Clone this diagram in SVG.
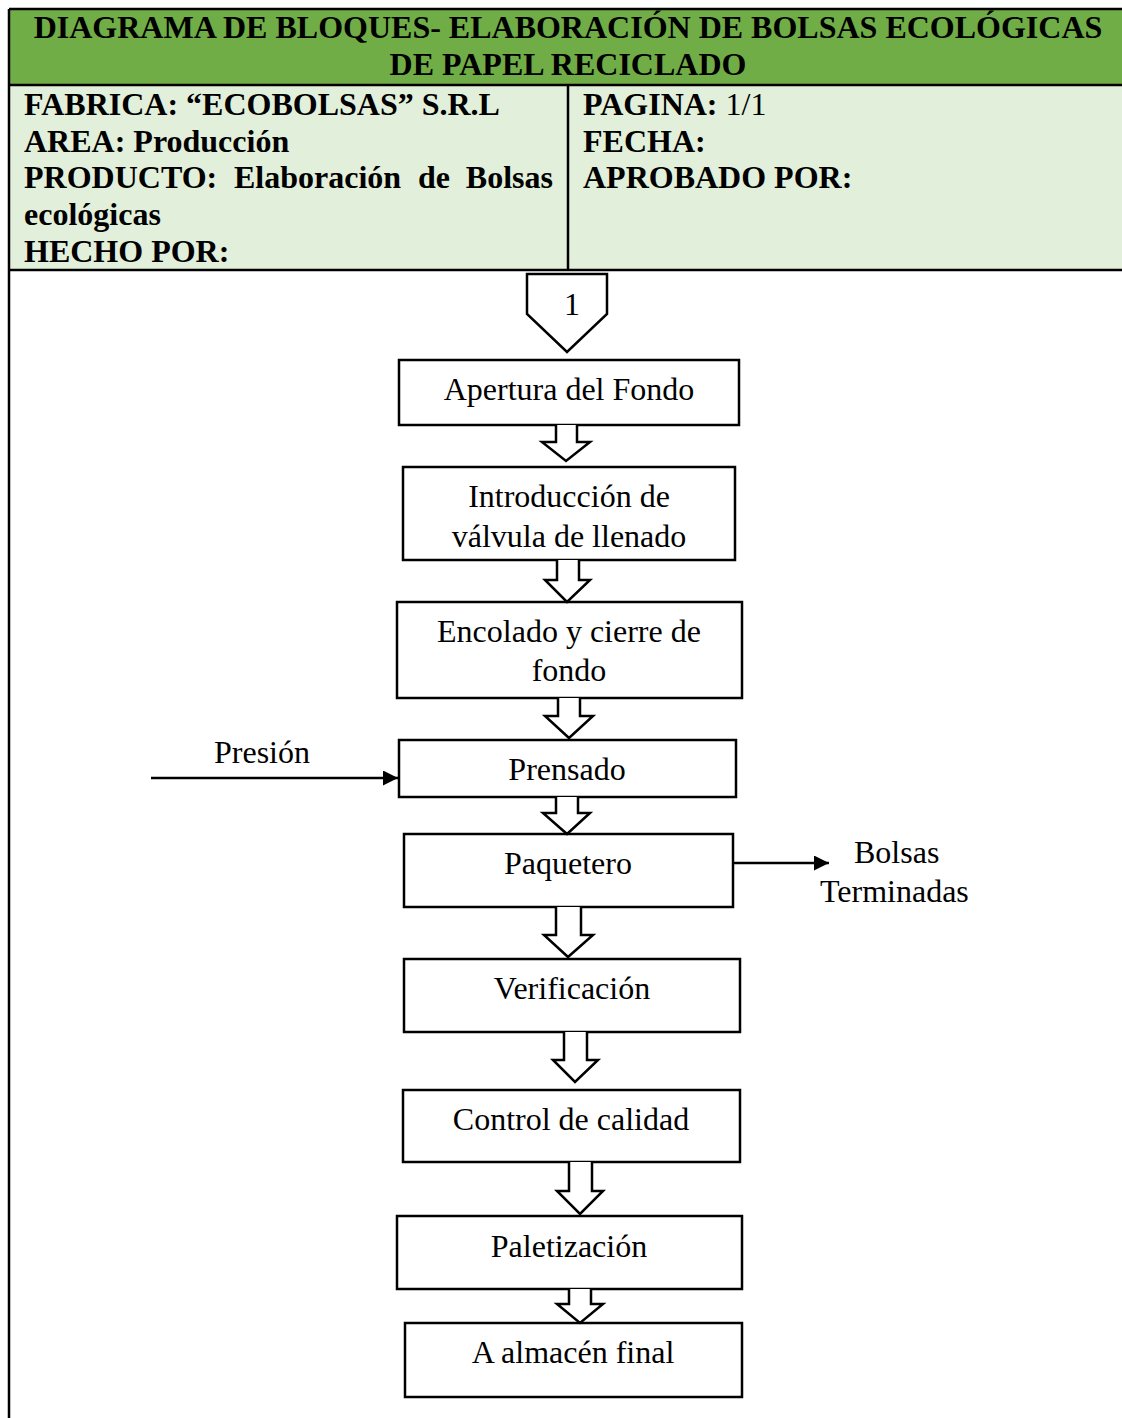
<svg xmlns="http://www.w3.org/2000/svg" width="1122" height="1418" viewBox="0 0 1122 1418">
<defs>
<style>
text{font-family:"Liberation Serif","Times New Roman",serif;fill:#000}
.t{font-size:32px;font-weight:bold}
.h{font-size:32px;font-weight:bold}
.b{font-size:32px;text-anchor:middle}
.l{font-size:32px}
.box{fill:#fff;stroke:#000;stroke-width:2.5}
.ba{fill:#fff;stroke:#000;stroke-width:2.5;stroke-linejoin:miter}
.ln{stroke:#000;stroke-width:2.5;fill:none}
</style>
<marker id="ah2" viewBox="0 0 14 14" refX="14" refY="7" markerWidth="15" markerHeight="15" markerUnits="userSpaceOnUse" orient="auto">
<path d="M0,0 L14,7 L0,14 z" fill="#000"/>
</marker>
</defs>
<rect width="1122" height="1418" fill="#fff"/>
<g id="header">
<rect x="9" y="9" width="1115" height="76" fill="#70AD47"/>
<rect x="9" y="85" width="1115" height="185" fill="#E2EFDA"/>
<path class="ln" d="M9,9 H1124 M9,85 H1124 M9,270 H1124 M9,9 V1420 M568,85 V270"/>
<text class="t" x="568" y="38" text-anchor="middle">DIAGRAMA DE BLOQUES- ELABORACIÓN DE BOLSAS ECOLÓGICAS</text>
<text class="t" x="568" y="75" text-anchor="middle">DE PAPEL RECICLADO</text>
<text class="h" x="24" y="115">FABRICA: “ECOBOLSAS” S.R.L</text>
<text class="h" x="24" y="152">AREA: Producción</text>
<text class="h" y="188"><tspan x="24">PRODUCTO:</tspan><tspan x="234">Elaboración</tspan><tspan x="418">de</tspan></text>
<text class="h" x="553" y="188" text-anchor="end">Bolsas</text>
<text class="h" x="24" y="225">ecológicas</text>
<text class="h" x="24" y="262">HECHO POR:</text>
<text class="h" x="583" y="115">PAGINA: <tspan font-weight="normal">1/1</tspan></text>
<text class="h" x="583" y="152">FECHA:</text>
<text class="h" x="583" y="188">APROBADO POR:</text>
</g>
<g id="connector1">
<path class="box" d="M527,274 H607 V314 L567,352 L527,314 Z"/>
<text class="b" x="572" y="315">1</text>
</g>
<g id="n1"><rect class="box" x="399" y="360" width="340" height="65"/><text class="b" x="569" y="400">Apertura del Fondo</text></g>
<g id="n2"><rect class="box" x="403" y="467" width="332" height="93"/><text class="b" x="569" y="507">Introducción de</text><text class="b" x="569" y="547">válvula de llenado</text></g>
<g id="n3"><rect class="box" x="397" y="602" width="345" height="96"/><text class="b" x="569" y="642">Encolado y cierre de</text><text class="b" x="569" y="681">fondo</text></g>
<g id="n4"><rect class="box" x="399" y="740" width="337" height="57"/><text class="b" x="567" y="780">Prensado</text></g>
<g id="n5"><rect class="box" x="404" y="834" width="329" height="73"/><text class="b" x="568" y="874">Paquetero</text></g>
<g id="n6"><rect class="box" x="404" y="959" width="336" height="73"/><text class="b" x="572" y="999">Verificación</text></g>
<g id="n7"><rect class="box" x="403" y="1090" width="337" height="72"/><text class="b" x="571" y="1130">Control de calidad</text></g>
<g id="n8"><rect class="box" x="397" y="1216" width="345" height="73"/><text class="b" x="569" y="1257">Paletización</text></g>
<g id="n9"><rect class="box" x="405" y="1323" width="337" height="74"/><text class="b" x="573" y="1363">A almacén final</text></g>
<g id="connectors">
<path class="ba" d="M556,425 V442 H542 L566,461 L590,442 H577 V425"/>
<path class="ba" d="M557,560 V580 H545 L567,602 L590,580 H579 V560"/>
<path class="ba" d="M558,698 V716 H545 L569,738 L593,716 H580 V698"/>
<path class="ba" d="M556,797 V813 H543 L567,834 L590,813 H578 V797"/>
<path class="ba" d="M556,907 V935 H544 L568,957 L593,935 H581 V907"/>
<path class="ba" d="M564,1032 V1060 H553 L575,1082 L598,1060 H587 V1032"/>
<path class="ba" d="M569,1162 V1191 H557 L580,1214 L603,1191 H592 V1162"/>
<path class="ba" d="M569,1289 V1304 H557 L580,1323 L603,1304 H591 V1289"/>
<line class="ln" x1="151" y1="778" x2="398" y2="778" marker-end="url(#ah2)"/>
<line class="ln" x1="733" y1="863" x2="829" y2="863" marker-end="url(#ah2)"/>
<text class="l" x="214" y="763">Presión</text>
<text class="l" x="854" y="863">Bolsas</text>
<text class="l" x="820" y="902">Terminadas</text>
</g>
</svg>
